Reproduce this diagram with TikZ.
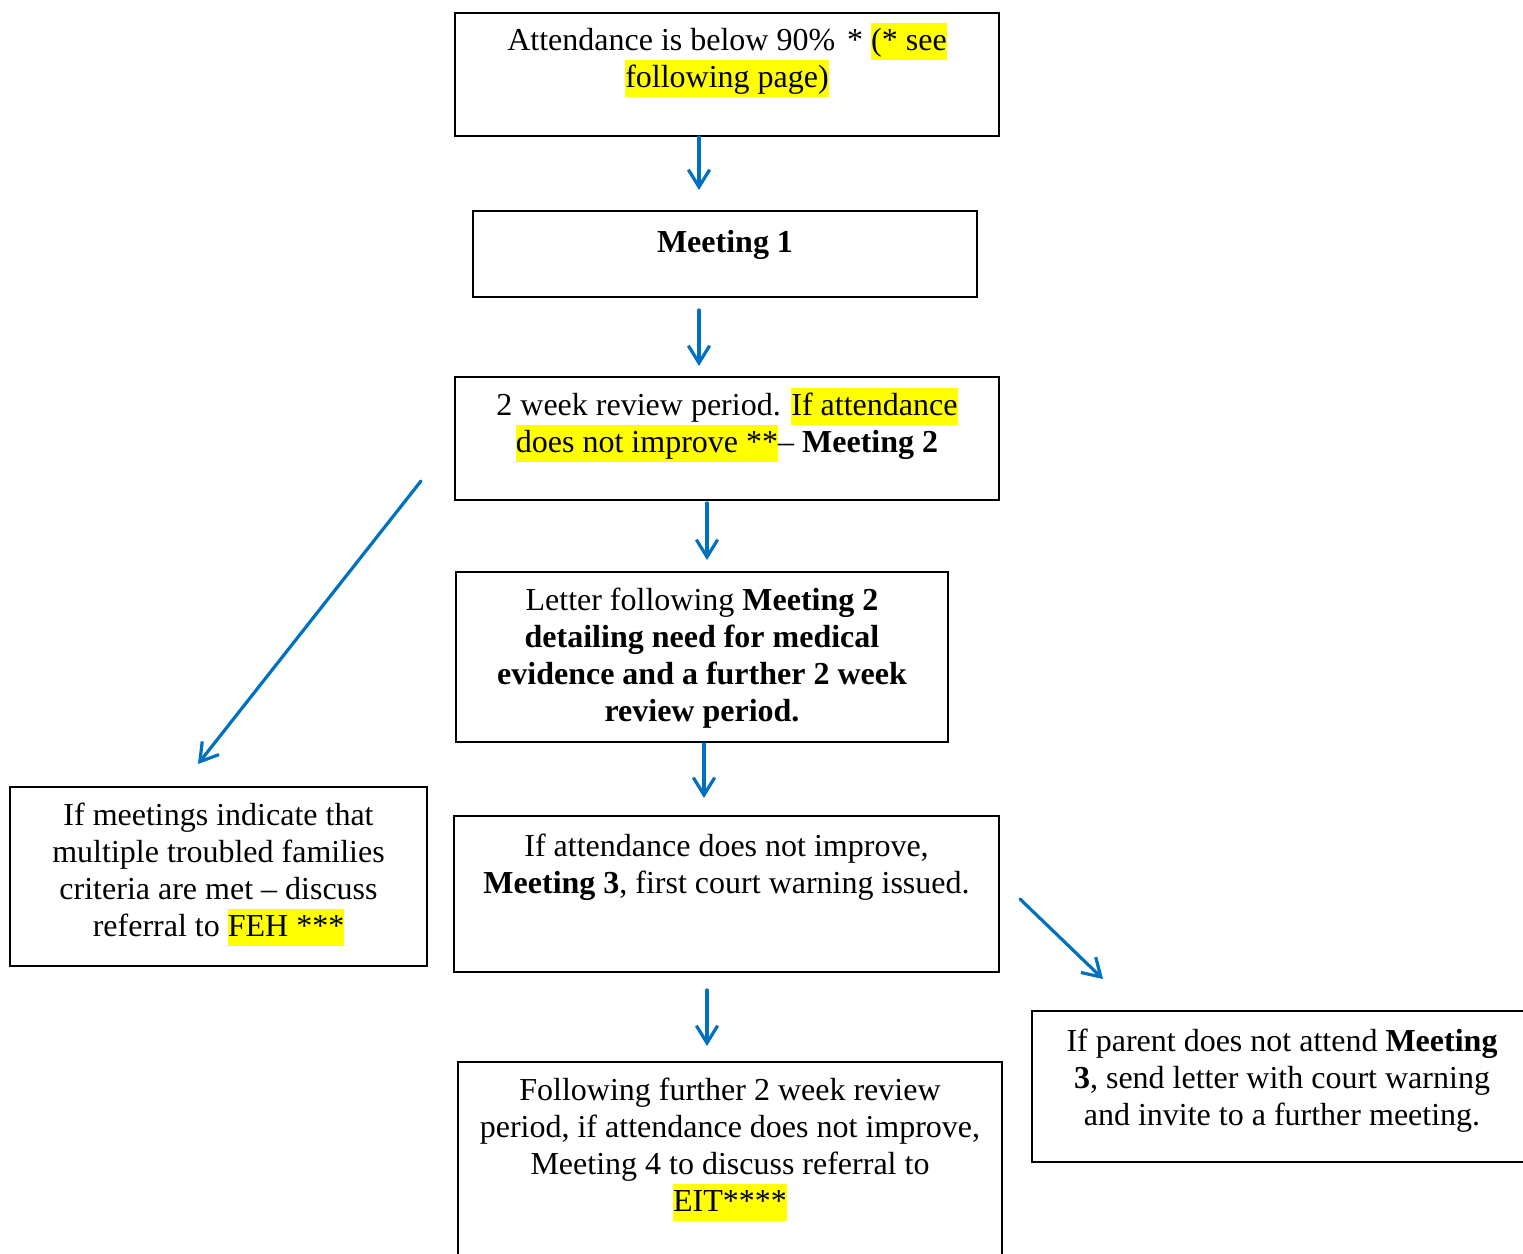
\documentclass[tikz,border=0pt]{standalone}
\usepackage{fontspec}
\setmainfont{Liberation Serif}
\usetikzlibrary{arrows.meta}
\definecolor{arrowblue}{RGB}{0,112,192}
\definecolor{hlyellow}{RGB}{255,255,0}
\newcommand{\hl}[1]{{\setlength{\fboxsep}{0pt}\colorbox{hlyellow}{\rule[-3.375pt]{0pt}{13.875pt}#1}}}
\newcommand{\boxtext}[4]{\parbox[c][#2pt][t]{#1pt}{\centering\fontsize{12pt}{13.875pt}\selectfont\lineskiplimit=-5pt\vspace*{#3pt}\rule{0pt}{10.5pt}#4\par}}
\tikzset{
  box/.style={draw, line width=0.75pt, inner sep=0pt, anchor=north west},
  flow/.style={draw=arrowblue, line width=1.2pt, line cap=round, -{Straight Barb[length=6.5pt,width=8pt]}}
}
\begin{document}
\begin{tikzpicture}[x=0.375pt, y=-0.375pt]
\useasboundingbox (0,0) rectangle (1523,1254);
\fill[white] (0,0) rectangle (1523,1254);

\node[box] (start) at (454,12) {\boxtext{204}{46.1}{3.75}{Attendance is below 90\%\hspace{4.5pt}* \hl{(* see}\\\hl{following page)}}};
\node[box] (m1) at (472,210) {\boxtext{189}{32.25}{5.2}{\textbf{Meeting 1}}};
\node[box] (review) at (454,376) {\boxtext{204}{46.1}{4.1}{2 week review period. \hl{If attendance}\\\hl{does not improve **}-- \textbf{Meeting 2}}};
\node[box] (letter) at (455,571) {\boxtext{184.5}{63.75}{4.1}{Letter following \textbf{Meeting 2}\\\textbf{detailing need for medical}\\\textbf{evidence and a further 2 week}\\\textbf{review period.}}};
\node[box] (feh) at (9,786) {\boxtext{156.4}{67.1}{4.1}{If meetings indicate that\\multiple troubled families\\criteria are met -- discuss\\referral to \hl{FEH ***}}};
\node[box] (m3) at (453,815) {\boxtext{204.4}{58.5}{4.5}{If attendance does not improve,\\\textbf{Meeting 3}, first court warning issued.}};
\node[box] (parent) at (1031,1010) {\boxtext{187.5}{56.6}{4.5}{If parent does not attend \textbf{Meeting}\\\textbf{3}, send letter with court warning\\and invite to a further meeting.}};
\node[box] (m4) at (457,1061) {\boxtext{204}{75.4}{4.1}{Following further 2 week review\\period, if attendance does not improve,\\Meeting 4 to discuss referral to\\\hl{EIT****}}};

\coordinate (a1s) at (699,137);  \coordinate (a1e) at (699,190);
\coordinate (a2s) at (699,310);  \coordinate (a2e) at (699,366);
\coordinate (a3s) at (707,503);  \coordinate (a3e) at (707,560);
\coordinate (a4s) at (704,744);  \coordinate (a4e) at (704,798);
\coordinate (a5s) at (421,481);  \coordinate (a5e) at (198,764);
\coordinate (a6s) at (1020,899); \coordinate (a6e) at (1103,979);
\coordinate (a7s) at (707,990);  \coordinate (a7e) at (707,1046);

\draw[flow] (a1s) -- (a1e);
\draw[flow] (a2s) -- (a2e);
\draw[flow] (a3s) -- (a3e);
\draw[flow] (a4s) -- (a4e);
\draw[flow] (a5s) -- (a5e);
\draw[flow] (a6s) -- (a6e);
\draw[flow] (a7s) -- (a7e);
\end{tikzpicture}
\end{document}
